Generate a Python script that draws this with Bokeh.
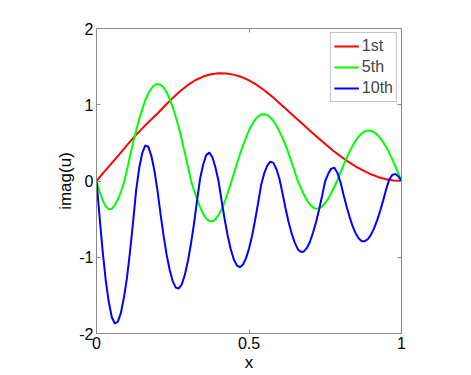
from bokeh.plotting import figure
from bokeh.models import LinearAxis, FixedTicker, Range1d, Legend, LegendItem
from bokeh.embed import file_html
from bokeh.resources import INLINE

# ---------------- data ----------------
series_names = ["1st", "5th", "10th"]

x_coarse = [0.0, 0.025, 0.05, 0.075, 0.1, 0.125, 0.15, 0.175, 0.2, 0.225,
            0.25, 0.275, 0.3, 0.325, 0.35, 0.375, 0.4, 0.425, 0.45, 0.475,
            0.5, 0.525, 0.55, 0.575, 0.6, 0.625, 0.65, 0.675, 0.7, 0.725,
            0.75, 0.775, 0.8, 0.825, 0.85, 0.875, 0.9, 0.925, 0.95, 0.975, 1.0]
y_1st = [0.0, 0.12, 0.235, 0.35, 0.47, 0.585, 0.69, 0.79, 0.885, 0.99,
         1.09, 1.18, 1.26, 1.325, 1.37, 1.40, 1.413, 1.41, 1.395, 1.365,
         1.32, 1.26, 1.19, 1.11, 1.02, 0.93, 0.84, 0.75, 0.66, 0.57,
         0.485, 0.40, 0.325, 0.255, 0.19, 0.135, 0.088, 0.05, 0.022, 0.006, 0.0]

x_fine = [0.00, 0.01, 0.02, 0.03, 0.04, 0.05, 0.06, 0.07, 0.08, 0.09,
          0.10, 0.11, 0.12, 0.13, 0.14, 0.15, 0.16, 0.17, 0.18, 0.19,
          0.20, 0.21, 0.22, 0.23, 0.24, 0.25, 0.26, 0.27, 0.28, 0.29,
          0.30, 0.31, 0.32, 0.33, 0.34, 0.35, 0.36, 0.37, 0.38, 0.39,
          0.40, 0.41, 0.42, 0.43, 0.44, 0.45, 0.46, 0.47, 0.48, 0.49,
          0.50, 0.51, 0.52, 0.53, 0.54, 0.55, 0.56, 0.57, 0.58, 0.59,
          0.60, 0.61, 0.62, 0.63, 0.64, 0.65, 0.66, 0.67, 0.68, 0.69,
          0.70, 0.71, 0.72, 0.73, 0.74, 0.75, 0.76, 0.77, 0.78, 0.79,
          0.80, 0.81, 0.82, 0.83, 0.84, 0.85, 0.86, 0.87, 0.88, 0.89,
          0.90, 0.91, 0.92, 0.93, 0.94, 0.95, 0.96, 0.97, 0.98, 0.99, 1.00]

y_5th = [0.0, -0.134, -0.251, -0.333, -0.372, -0.364, -0.320, -0.243, -0.141, -0.024,
         0.146, 0.329, 0.502, 0.662, 0.811, 0.939, 1.059, 1.150, 1.214, 1.258,
         1.274, 1.261, 1.225, 1.164, 1.075, 0.968, 0.843, 0.697, 0.534, 0.362,
         0.183, 0.0, -0.125, -0.243, -0.345, -0.433, -0.495, -0.526, -0.529, -0.503,
         -0.448, -0.371, -0.277, -0.160, -0.038, 0.092, 0.223, 0.347, 0.464, 0.569,
         0.665, 0.741, 0.805, 0.847, 0.872, 0.876, 0.864, 0.834, 0.787, 0.727,
         0.647, 0.564, 0.466, 0.358, 0.243, 0.122, 0.0, -0.092, -0.178, -0.253,
         -0.308, -0.348, -0.365, -0.359, -0.333, -0.289, -0.231, -0.158, -0.076, 0.010,
         0.110, 0.209, 0.301, 0.388, 0.464, 0.530, 0.584, 0.626, 0.653, 0.662,
         0.657, 0.639, 0.608, 0.563, 0.507, 0.445, 0.365, 0.281, 0.191, 0.096, 0.0]

y_10th = [0.0, -0.468, -0.912, -1.292, -1.581, -1.783, -1.869, -1.845, -1.730, -1.528,
          -1.266, -0.922, -0.536, -0.124, 0.170, 0.367, 0.468, 0.448, 0.327, 0.134,
          -0.126, -0.434, -0.720, -0.969, -1.168, -1.316, -1.398, -1.410, -1.353, -1.225,
          -1.043, -0.817, -0.549, -0.248, 0.039, 0.220, 0.342, 0.372, 0.311, 0.176,
          0.0, -0.255, -0.497, -0.714, -0.893, -1.026, -1.106, -1.130, -1.098, -1.015,
          -0.888, -0.722, -0.515, -0.289, -0.048, 0.102, 0.202, 0.253, 0.237, 0.154,
          0.027, -0.164, -0.363, -0.540, -0.688, -0.808, -0.894, -0.931, -0.924, -0.878,
          -0.796, -0.676, -0.537, -0.370, -0.189, 0.0, 0.098, 0.162, 0.173, 0.106,
          -0.017, -0.179, -0.335, -0.473, -0.596, -0.689, -0.755, -0.789, -0.789, -0.760,
          -0.703, -0.622, -0.517, -0.394, -0.254, -0.106, 0.022, 0.080, 0.092, 0.060, 0.0]

x_ticks = [0, 0.5, 1]
x_tick_labels = ["0", "0.5", "1"]
y_ticks = [-2, -1, 0, 1, 2]
y_tick_labels = ["-2", "-1", "0", "1", "2"]
x_label = "x"
y_label = "imag(u)"

# ---------------- styling ----------------
FONT = "Liberation Sans"
AXIS_GREY = "#8a8a8a"

p = figure(frame_width=305, frame_height=305,
           x_range=Range1d(0, 1), y_range=Range1d(-2, 2),
           output_backend="svg", toolbar_location=None,
           min_border_left=96, min_border_right=62,
           min_border_top=28, min_border_bottom=0)
p.xgrid.visible = False
p.ygrid.visible = False
p.outline_line_color = AXIS_GREY
p.background_fill_color = "white"
p.border_fill_color = "white"


def style_axis(ax, ticks, labels, show_labels=True):
    ax.ticker = FixedTicker(ticks=ticks)
    if show_labels:
        ax.major_label_overrides = {t: l for t, l in zip(ticks, labels)}
    else:
        ax.major_label_overrides = {t: "" for t in ticks}
    ax.major_tick_in = 4
    ax.major_tick_out = 0
    ax.minor_tick_in = 0
    ax.minor_tick_out = 0
    ax.axis_line_color = AXIS_GREY
    ax.major_tick_line_color = AXIS_GREY
    ax.major_label_text_font = FONT
    ax.major_label_text_font_size = "16px"
    ax.major_label_text_color = "black"
    ax.major_label_standoff = 3


style_axis(p.xaxis[0], x_ticks, x_tick_labels)
style_axis(p.yaxis[0], y_ticks, y_tick_labels)
p.xaxis[0].axis_label = x_label
p.yaxis[0].axis_label = y_label
for ax in (p.xaxis[0], p.yaxis[0]):
    ax.axis_label_text_font = FONT
    ax.axis_label_text_font_size = "17px"
    ax.axis_label_text_font_style = "normal"
    ax.axis_label_text_color = "black"
    ax.axis_label_standoff = 1

top_ax = LinearAxis()
style_axis(top_ax, x_ticks, x_tick_labels, show_labels=False)
p.add_layout(top_ax, "above")
right_ax = LinearAxis()
style_axis(right_ax, y_ticks, y_tick_labels, show_labels=False)
p.add_layout(right_ax, "right")

colors = ["#ff0000", "#00ff00", "#0000ff"]
r1 = p.line(x_coarse, y_1st, line_color=colors[0], line_width=2)
r5 = p.line(x_fine, y_5th, line_color=colors[1], line_width=2)
r10 = p.line(x_fine, y_10th, line_color=colors[2], line_width=2)

legend = Legend(items=[LegendItem(label=series_names[0], renderers=[r1]),
                       LegendItem(label=series_names[1], renderers=[r5]),
                       LegendItem(label=series_names[2], renderers=[r10])],
                location="top_right")
legend.margin = 4
legend.padding = 3
legend.spacing = 1
legend.glyph_width = 25
legend.glyph_height = 20
legend.label_height = 20
legend.label_standoff = 3
legend.label_text_font = FONT
legend.label_text_font_size = "16px"
legend.border_line_color = AXIS_GREY
legend.border_line_width = 1
legend.background_fill_color = "white"
legend.background_fill_alpha = 1.0
p.add_layout(legend)

open("out.html", "w").write(file_html(p, INLINE))
